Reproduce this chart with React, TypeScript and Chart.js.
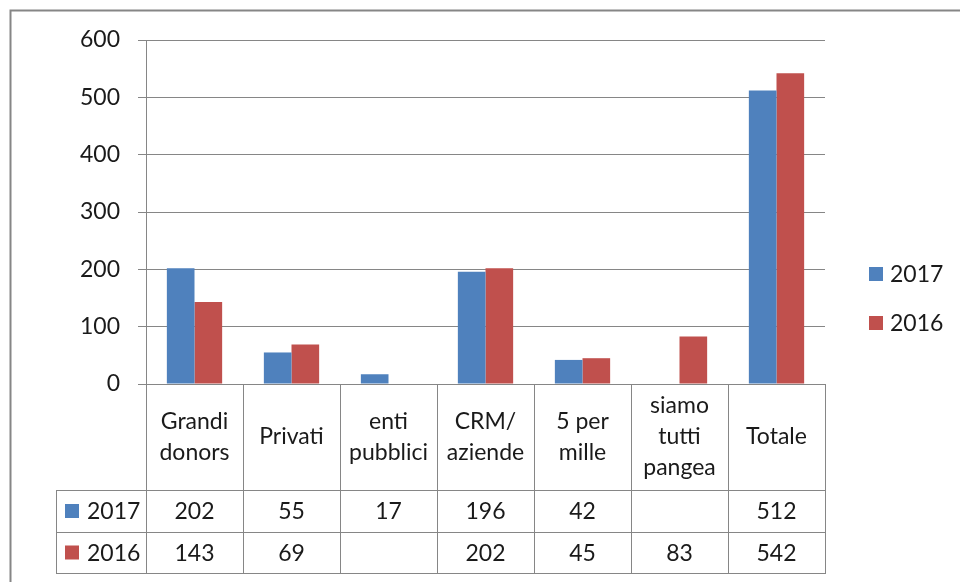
import React, { useEffect, useRef } from "react";
import { Chart, registerables } from "chart.js";

Chart.register(...registerables);

const categories: string[][] = [
  ["Grandi", "donors"],
  ["Privati"],
  ["enti", "pubblici"],
  ["CRM/", "aziende"],
  ["5 per", "mille"],
  ["siamo", "tutti", "pangea"],
  ["Totale"],
];
const seriesNames = ["2017", "2016"];
const values2017: (number | null)[] = [202, 55, 17, 196, 42, null, 512];
const values2016: (number | null)[] = [143, 69, null, 202, 45, 83, 542];
const yTicks = [0, 100, 200, 300, 400, 500, 600];

const COLORS = ["#4F81BD", "#C0504D"];
const GRID = "#868686";
const TEXT = "#1a1a1a";
const FONT = "Lato";
const FONT_SIZE = 23;

const tablePlugin = {
  id: "dataTable",
  afterDraw(chart: any) {
    const ctx: CanvasRenderingContext2D = chart.ctx;
    const xs = chart.scales.x;
    const area = chart.chartArea;
    const n = categories.length;
    const colW = (area.right - area.left) / n;
    const top = area.bottom;
    const bottom = xs.bottom;
    const mid = bottom - 41;
    const headerBottom = bottom - 83;
    const keyLeft = 56;
    const allValues = [values2017, values2016];

    ctx.save();
    ctx.strokeStyle = GRID;
    ctx.lineWidth = 1;
    ctx.beginPath();
    for (let i = 0; i <= n; i++) {
      const bx = Math.round(
        i < n ? xs.getPixelForValue(i) - colW / 2 : xs.getPixelForValue(n - 1) + colW / 2
      ) + 0.5;
      ctx.moveTo(bx, top);
      ctx.lineTo(bx, bottom);
    }
    ctx.moveTo(keyLeft + 0.5, headerBottom);
    ctx.lineTo(keyLeft + 0.5, bottom);
    for (const hy of [headerBottom, mid, bottom]) {
      const yy = Math.round(hy) + 0.5;
      ctx.moveTo(keyLeft, yy);
      ctx.lineTo(area.right + 1, yy);
    }
    ctx.stroke();

    ctx.fillStyle = TEXT;
    ctx.font = `${FONT_SIZE}px ${FONT}`;
    ctx.textAlign = "center";
    ctx.textBaseline = "middle";
    const lineH = 31;
    const headCenter = (top + headerBottom) / 2;
    categories.forEach((lines, i) => {
      const cx = xs.getPixelForValue(i);
      const startY = headCenter - ((lines.length - 1) * lineH) / 2;
      lines.forEach((t, j) => ctx.fillText(t, cx, startY + j * lineH));
    });

    const rowCenters = [(headerBottom + mid) / 2, (mid + bottom) / 2];
    allValues.forEach((vals, r) => {
      vals.forEach((v, i) => {
        if (v === null) return;
        ctx.fillStyle = TEXT;
        ctx.textAlign = "center";
        ctx.fillText(String(v), xs.getPixelForValue(i), rowCenters[r] + 1);
      });
      ctx.fillStyle = COLORS[r];
      ctx.fillRect(keyLeft + 9, rowCenters[r] - 7, 14, 14);
      ctx.fillStyle = TEXT;
      ctx.textAlign = "left";
      ctx.fillText(seriesNames[r], keyLeft + 31, rowCenters[r] + 1);
    });

    // legend on the right
    const legendY = [274, 323];
    seriesNames.forEach((name, r) => {
      ctx.fillStyle = COLORS[r];
      ctx.fillRect(869, legendY[r] - 7, 14, 14);
      ctx.fillStyle = TEXT;
      ctx.textAlign = "left";
      ctx.fillText(name, 890, legendY[r] + 1);
    });

    // outer chart border
    ctx.strokeStyle = GRID;
    ctx.lineWidth = 2;
    ctx.beginPath();
    ctx.moveTo(10.5, chart.height);
    ctx.lineTo(10.5, 10.5);
    ctx.lineTo(chart.width, 10.5);
    ctx.stroke();
    ctx.restore();
  },
};

export default function App() {
  const ref = useRef<HTMLCanvasElement | null>(null);
  useEffect(() => {
    if (!ref.current) return;
    const chart = new Chart(ref.current, {
      type: "bar",
      data: {
        labels: categories.map((c) => c.join(" ")),
        datasets: [
          { label: seriesNames[0], data: values2017, backgroundColor: COLORS[0], borderWidth: 0 },
          { label: seriesNames[1], data: values2016, backgroundColor: COLORS[1], borderWidth: 0 },
        ],
      },
      options: {
        animation: false,
        responsive: false,
        layout: { padding: { left: 0, top: 40, right: 135, bottom: 9 } },
        datasets: { bar: { categoryPercentage: 0.57, barPercentage: 1 } },
        plugins: { legend: { display: false }, tooltip: { enabled: false } },
        scales: {
          x: {
            grid: { display: false },
            border: { display: true, color: GRID },
            ticks: { display: false },
            afterFit: (s: any) => {
              s.height = 189;
            },
          },
          y: {
            min: yTicks[0],
            max: yTicks[yTicks.length - 1],
            afterBuildTicks: (s: any) => {
              s.ticks = yTicks.map((v) => ({ value: v }));
            },
            grid: { color: GRID, tickLength: 8, lineWidth: 1 },
            border: { display: true, color: GRID },
            ticks: {
              padding: 18,
              color: TEXT,
              font: { family: FONT, size: FONT_SIZE },
            },
            afterFit: (s: any) => {
              s.width = 146;
            },
          },
        },
      },
      plugins: [tablePlugin],
    });
    return () => chart.destroy();
  }, []);
  return (
    <div style={{ position: "absolute", left: 0, top: 0, width: 960, height: 582, background: "#fff" }}>
      <canvas ref={ref} width={960} height={582} />
    </div>
  );
}
